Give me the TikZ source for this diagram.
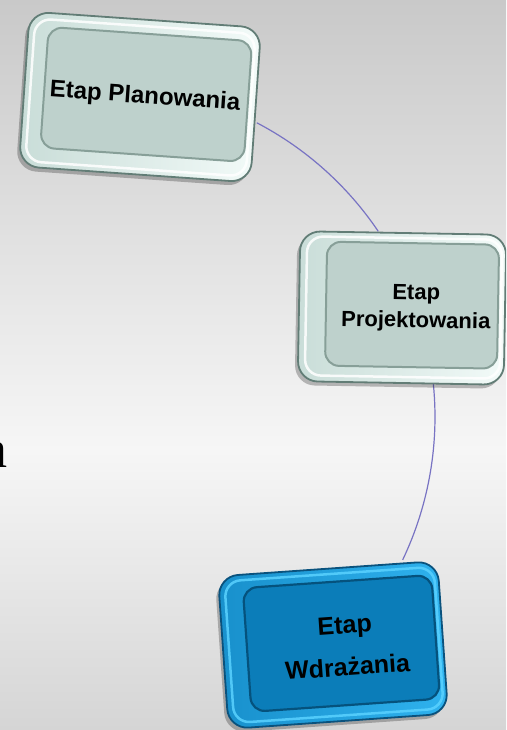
\documentclass[tikz,border=0pt]{standalone}
\usepackage{fontspec}
\setsansfont{Liberation Sans}
\newfontfamily\serifa{Liberation Serif}
\usetikzlibrary{shadows}
\definecolor{bgtop}{HTML}{C9C9C9}
\definecolor{bgmid}{HTML}{F6F6F6}
\definecolor{bgbot}{HTML}{D5D5D5}
\definecolor{connc}{HTML}{7873C3}
\definecolor{rimgray}{HTML}{627D76}
\definecolor{bevgl}{HTML}{C9DDD8}
\definecolor{bevgr}{HTML}{F3FBF9}
\definecolor{hlgray}{HTML}{FFFFFF}
\definecolor{facegrayc}{HTML}{BED1CC}
\definecolor{facegrayedge}{HTML}{879F98}
\definecolor{rimblue}{HTML}{0A527D}
\definecolor{bevbl}{HTML}{1890CC}
\definecolor{bevbr}{HTML}{2FB2EE}
\definecolor{hlblue}{HTML}{5AD2FF}
\definecolor{facebluec}{HTML}{0B7DB9}
\definecolor{faceblueedge}{HTML}{05527D}
\begin{document}
\begin{tikzpicture}[x=1pt,y=1pt,
  conn/.style={draw=connc, line width=1.2pt},
  bevgray/.style={rounded corners=20pt, draw=rimgray, line width=1.8pt,
    left color=bevgl, right color=bevgr,
    drop shadow={shadow xshift=-3pt, shadow yshift=-4pt, opacity=.25, fill=black}},
  hilgray/.style={rounded corners=16pt, draw=hlgray, line width=2.5pt, opacity=.85},
  facegray/.style={rounded corners=14pt, draw=facegrayedge, line width=2pt, fill=facegrayc},
  bevblue/.style={rounded corners=20pt, draw=rimblue, line width=1.8pt,
    left color=bevbl, right color=bevbr,
    drop shadow={shadow xshift=-3pt, shadow yshift=-4pt, opacity=.25, fill=black}},
  hilblue/.style={rounded corners=16pt, draw=hlblue, line width=2.5pt, opacity=.85},
  faceblue/.style={rounded corners=14pt, draw=faceblueedge, line width=2.2pt, fill=facebluec},
  boxtext/.style={align=center, text=black, inner sep=0pt}
]
\useasboundingbox (0,0) rectangle (506,730);
\clip (0,0) rectangle (506,730);
% background
\shade[top color=bgtop, bottom color=bgmid] (0,280) rectangle (506,730);
\shade[top color=bgmid, bottom color=bgbot] (0,0) rectangle (506,280);
% fragment of a letter at the left edge
\node[font=\serifa\fontsize{54}{60}\selectfont, anchor=base east, inner sep=0pt] (frag) at (7.5,262) {a};
% connectors (arcs of one circle)
\coordinate (cc) at (103,313);
\path (cc) ++(62.4:332) coordinate (p1);
\path (cc) ++(34:332) coordinate (p2);
\path (cc) ++(6.4:332) coordinate (p3);
\path (cc) ++(-25.5:332) coordinate (p4);
\draw[conn] (p1) arc[start angle=62.4, end angle=34, radius=332pt];
\draw[conn] (p3) arc[start angle=6.4, end angle=-25.5, radius=332pt];
% box 1
\begin{scope}[shift={(140,633)}, rotate=-4, transform shape]
  \path[bevgray] (-116,-77.5) rectangle (116,77.5);
  \path[hilgray] (-110,-72) rectangle (111,71);
  \path[facegray] (-96,-57.5) rectangle (108,63.5);
  \node[boxtext, font=\sffamily\bfseries\fontsize{24}{28}\selectfont] (plan) at (5,0) {Etap Planowania};
\end{scope}
% box 2
\begin{scope}[shift={(402,422)}, rotate=-1, transform shape]
  \path[bevgray] (-103,-75) rectangle (103,75);
  \path[hilgray] (-96,-69) rectangle (99,70);
  \path[facegray] (-76,-59) rectangle (96,65);
  \node[boxtext, font=\sffamily\bfseries\fontsize{22}{28}\selectfont] (proj) at (14,0) {Etap\\Projektowania};
\end{scope}
% box 3
\begin{scope}[shift={(333,85)}, rotate=4, transform shape]
  \path[bevblue] (-110,-76.5) rectangle (110,76.5);
  \path[hilblue] (-104,-71) rectangle (106,71);
  \path[faceblue] (-86,-61) rectangle (103,63);
  \node[boxtext, font=\sffamily\bfseries\fontsize{25}{42}\selectfont] (wdr) at (13,-2) {Etap\\Wdrażania};
\end{scope}
\end{tikzpicture}
\end{document}
